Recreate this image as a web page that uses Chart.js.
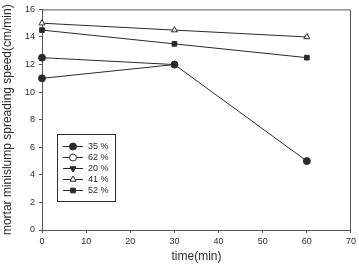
<!DOCTYPE html>
<html>
<head>
<meta charset="utf-8">
<script src="https://cdn.jsdelivr.net/npm/chart.js@4.4.1/dist/chart.umd.min.js"></script>
<style>
  html, body { margin: 0; padding: 0; background: #fff; }
  #wrap { width: 359px; height: 264px; position: relative; }
</style>
</head>
<body>
<div id="wrap"><canvas id="chart"></canvas></div>
<script>
/* mortar minislump spreading speed vs time */

const times = [0, 30, 60];
const seriesLabels = ['35 %', '62 %', '20 %', '41 %', '52 %'];
const s35 = [12.5, 12, 5];
const s62 = [null, null, null];
const s20 = [11, 12, null];
const s41 = [15, 14.5, 14];
const s52 = [14.5, 13.5, 12.5];
const xTicks = [0, 10, 20, 30, 40, 50, 60, 70];
const yTicks = [0, 2, 4, 6, 8, 10, 12, 14, 16];

const INK = '#2b2b2b';
const FONT = 'Liberation Sans, Arial, sans-serif';

const STYLES = [
  { pointStyle: 'circle',   fill: INK,    rot: 0 },
  { pointStyle: 'circle',   fill: '#fff', rot: 0 },
  { pointStyle: 'triangle', fill: INK,    rot: 180 },
  { pointStyle: 'triangle', fill: '#fff', rot: 0 },
  { pointStyle: 'rect',     fill: INK,    rot: 0 },
];
const radiusOf = st => st.pointStyle === 'rect' ? 3.3 : 3.5;

function mk(values, i) {
  const st = STYLES[i];
  return {
    label: seriesLabels[i],
    data: values.map((v, k) => ({ x: times[k], y: v })),
    borderColor: INK,
    borderWidth: 1,
    pointStyle: st.pointStyle,
    pointRotation: st.rot,
    pointBackgroundColor: st.fill,
    pointBorderColor: INK,
    pointBorderWidth: 1,
    pointRadius: radiusOf(st),
    tension: 0,
    clip: false,
  };
}

const ds20 = mk(s20, 2);
// first 20 % point sits under a round marker in the original
ds20.pointStyle = ['circle', 'triangle', 'triangle'];
ds20.pointRotation = [0, 180, 180];

// frame on top + right, and the boxed legend inside the plot
const extras = {
  id: 'extras',
  afterDraw(chart) {
    const { ctx, chartArea: a } = chart;
    ctx.save();
    ctx.strokeStyle = '#555';
    ctx.lineWidth = 1;
    ctx.beginPath();
    ctx.moveTo(a.left, a.top + 0.5);
    ctx.lineTo(a.right - 0.5, a.top + 0.5);
    ctx.lineTo(a.right - 0.5, a.bottom);
    ctx.stroke();

    // legend
    ctx.strokeStyle = INK;
    ctx.strokeRect(57.5, 134.5, 58, 67);
    chart.data.datasets.forEach((ds, i) => {
      const st = STYLES[i];
      const y = 146 + i * 11;
      ctx.strokeStyle = INK;
      ctx.beginPath();
      ctx.moveTo(63, y + 0.5);
      ctx.lineTo(83, y + 0.5);
      ctx.stroke();
      ctx.fillStyle = st.fill;
      ctx.strokeStyle = INK;
      Chart.helpers.drawPoint(ctx, {
        pointStyle: st.pointStyle,
        rotation: st.rot,
        radius: radiusOf(st),
        borderWidth: 1,
      }, 73, y + 0.5);
      ctx.fillStyle = INK;
      ctx.font = '9px ' + FONT;
      ctx.textBaseline = 'middle';
      ctx.fillText(ds.label, 88, y + 1);
    });
    ctx.restore();
  },
};

new Chart(document.getElementById('chart'), {
  type: 'line',
  data: {
    datasets: [mk(s35, 0), mk(s62, 1), ds20, mk(s41, 3), mk(s52, 4)],
  },
  options: {
    responsive: true,
    maintainAspectRatio: false,
    animation: false,
    layout: { padding: { top: 7, right: 8, left: 0, bottom: 0 } },
    plugins: {
      legend: { display: false },
      tooltip: { enabled: false },
    },
    scales: {
      x: {
        type: 'linear',
        min: 0, max: 70,
        afterBuildTicks: s => { s.ticks = xTicks.map(v => ({ value: v })); },
        afterFit: s => { s.height = 34; },
        grid: { drawOnChartArea: false, drawTicks: true, tickLength: 3, color: '#555' },
        border: { color: '#555', width: 1 },
        ticks: { color: INK, font: { size: 9, family: FONT }, padding: 3, maxRotation: 0 },
        title: {
          display: true, text: 'time(min)', color: INK,
          font: { size: 12, family: FONT }, padding: { top: 2, bottom: 0 },
        },
      },
      y: {
        min: 0, max: 16,
        afterBuildTicks: s => { s.ticks = yTicks.map(v => ({ value: v })); },
        afterFit: s => { s.width = 42; },
        grid: { drawOnChartArea: false, drawTicks: true, tickLength: 3, color: '#555' },
        border: { color: '#555', width: 1 },
        ticks: { color: INK, font: { size: 9, family: FONT }, padding: 4 },
        title: {
          display: true, text: 'mortar minislump spreading speed(cm/min)', color: INK,
          font: { size: 12, family: FONT }, padding: { top: 0, bottom: 4 },
        },
      },
    },
  },
  plugins: [extras],
});
</script>
</body>
</html>
